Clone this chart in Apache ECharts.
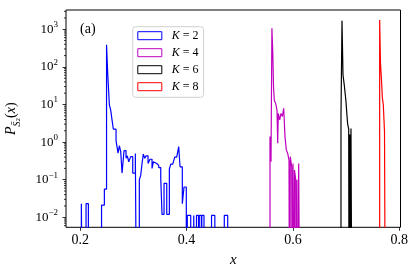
<!DOCTYPE html>
<html><head><meta charset="utf-8">
<script src="https://cdn.jsdelivr.net/npm/echarts@6/dist/echarts.min.js"></script>
<style>html,body{margin:0;padding:0;background:#fff}#c{width:416px;height:274px}</style>
</head><body><div id="c"></div>
<script>
// Step-histogram bins: left edge of each bin and its density (0 = empty bin)
const k2Edges = [0.2019, 0.2056, 0.2107, 0.2151, 0.2399, 0.2452, 0.2493, 0.2515, 0.2546, 0.2572, 0.2596, 0.2621, 0.2672, 0.2709, 0.2734, 0.2760, 0.2785, 0.2822, 0.2860, 0.2884, 0.2911, 0.2948, 0.2986, 0.3035, 0.3072, 0.3110, 0.3136, 0.3161, 0.3185, 0.3212, 0.3236, 0.3274, 0.3311, 0.3349, 0.3374, 0.3411, 0.3437, 0.3475, 0.3513, 0.3537, 0.3575, 0.3626, 0.3675, 0.3701, 0.3739, 0.3776, 0.3814, 0.3851, 0.3876, 0.3919, 0.3951, 0.3994, 0.4013, 0.4077, 0.4134, 0.4171, 0.4186, 0.4224, 0.4239, 0.4277, 0.4286, 0.4327, 0.4469, 0.4531, 0.4709, 0.4773];
const k2Values = [0.023, 0, 0.023, 0, 0.021, 0.056, 390, 68, 9.8, 7, 3.9, 2.2, 1.1, 0.51, 0.8, 0.55, 0.15, 0.59, 0.37, 0.43, 0.30, 0.41, 0.15, 0.5, 0, 0.10, 0.13, 0.27, 0.48, 0.37, 0.43, 0.27, 0.35, 0.20, 0.30, 0.27, 0.24, 0.21, 0.11, 0.012, 0.08, 0.012, 0.19, 0.26, 0.28, 0.40, 0.42, 0.76, 0.22, 0.023, 0.064, 0, 0.0112, 0, 0.0112, 0, 0.0112, 0, 0.0112, 0, 0.0112, 0, 0.0112, 0, 0.0112, 0];

const k4Edges = [0.5569, 0.5588, 0.5605, 0.5622, 0.5635, 0.5650, 0.5676, 0.5701, 0.5714, 0.5725, 0.5752, 0.5776, 0.5801, 0.5827, 0.5851, 0.5876, 0.5902, 0.5927, 0.5940, 0.5951, 0.5978, 0.5989, 0.6002, 0.6021, 0.6030, 0.6053, 0.6064, 0.6077, 0.6087, 0.6109, 0.6139];
const k4Values = [1.4, 0.30, 1070, 230, 30, 13, 10.7, 7, 0.93, 5.8, 3.9, 5.8, 4.8, 7.9, 1.4, 0.62, 0.50, 0.33, 0, 0.41, 0.22, 0, 0.27, 0, 0.18, 0.10, 0, 0.10, 0, 0.27, 0];

const k6Edges = [0.6905, 0.6924, 0.6943, 0.6967, 0.6999, 0.7018, 0.7031, 0.7050, 0.7061, 0.7070, 0.7084, 0.7093, 0.7118];
const k6Values = [4.8, 1700, 61, 33, 12, 5, 3, 2.2, 0, 1.6, 0, 2.3, 0];

const k8Edges = [0.7633, 0.7648, 0.7665, 0.7684, 0.7701, 0.7724, 0.7746];
const k8Values = [1770, 130, 50, 15, 10, 1.9, 0];

const seriesNames = ['K = 2', 'K = 4', 'K = 6', 'K = 8'];
const seriesColors = ['#0000ff', '#bf00bf', '#000000', '#ff0000'];
const xTicks = [0.2, 0.4, 0.6, 0.8];
const yDecades = [-2, -1, 0, 1, 2, 3];
const minorMultipliers = [2, 3, 4, 5, 6, 7, 8, 9];

const X_MIN = 0.173, X_MAX = 0.8025;
const Y_MIN = Math.log10(0.00542), Y_MAX = Math.log10(3260);
const FLOOR = -8;
const FONT = 'Liberation Serif';

function stepData(edges, values) {
  const d = [[edges[0], FLOOR]];
  for (let i = 0; i < edges.length; i++) {
    d.push([edges[i], values[i] > 0 ? Math.log10(values[i]) : FLOOR]);
  }
  return d;
}
const allEdges = [k2Edges, k4Edges, k6Edges, k8Edges];
const allValues = [k2Values, k4Values, k6Values, k8Values];

const minorVals = [];
for (let n = -3; n <= 3; n++) {
  minorMultipliers.forEach(m => {
    const v = n + Math.log10(m);
    if (v > Y_MIN && v < Y_MAX) minorVals.push([X_MIN, v]);
  });
}

const chart = echarts.init(document.getElementById('c'), null, {renderer: 'canvas'});
const series = seriesNames.map((name, i) => ({
  name: name,
  type: 'line',
  step: 'end',
  symbol: 'none',
  showSymbol: false,
  clip: true,
  animation: false,
  lineStyle: {color: seriesColors[i], width: 1.2},
  itemStyle: {color: seriesColors[i]},
  data: stepData(allEdges[i], allValues[i])
}));
series.push({
  type: 'custom',
  silent: true,
  animation: false,
  data: minorVals,
  renderItem: function (params, api) {
    const p = api.coord([api.value(0), api.value(1)]);
    return {type: 'line', shape: {x1: p[0] - 2, y1: p[1], x2: p[0], y2: p[1]},
            style: {stroke: '#000', lineWidth: 0.8}};
  }
});

chart.setOption({
  animation: false,
  backgroundColor: '#fff',
  title: {
    text: '(a)', left: 80, top: 22, padding: 0,
    textStyle: {fontFamily: FONT, fontSize: 14, fontWeight: 'normal', color: '#000'}
  },
  legend: {
    orient: 'vertical', left: 132.7, top: 26.7,
    padding: [3, 5, 4.6, 4.6],
    itemWidth: 24, itemHeight: 8, itemGap: 5,
    backgroundColor: 'rgba(255,255,255,0.8)',
    borderColor: '#d0d0d0', borderWidth: 1, borderRadius: 3,
    textStyle: {
      fontFamily: FONT, fontSize: 12, color: '#000', lineHeight: 12, padding: [0, 0, 0, 5],
      rich: {i: {fontFamily: FONT, fontSize: 12, fontStyle: 'italic', lineHeight: 12}}
    },
    formatter: name => name.replace('K', '{i|K}'),
    data: seriesNames.map((n, i) => ({
      name: n, icon: 'rect',
      itemStyle: {color: 'rgba(0,0,0,0)', borderColor: seriesColors[i], borderWidth: 1}
    }))
  },
  grid: {
    left: 66, right: 15.5, top: 10, bottom: 46.7,
    show: true, borderColor: '#000', borderWidth: 1, backgroundColor: 'transparent',
    containLabel: false, outerBoundsMode: 'none'
  },
  xAxis: {
    type: 'value', min: X_MIN, max: X_MAX,
    axisLine: {show: false, onZero: false},
    splitLine: {show: false},
    axisTick: {show: true, length: 3.5, customValues: xTicks, lineStyle: {color: '#000', width: 0.8}},
    axisLabel: {
      customValues: xTicks, margin: 6,
      fontFamily: FONT, fontSize: 14, color: '#000',
      formatter: v => v.toFixed(1)
    },
    name: 'x', nameLocation: 'middle', nameGap: 21,
    nameTextStyle: {fontFamily: FONT, fontSize: 15, fontStyle: 'italic', color: '#000'}
  },
  yAxis: {
    type: 'value', min: Y_MIN, max: Y_MAX,
    axisLine: {show: false, onZero: false},
    splitLine: {show: false},
    axisTick: {show: true, length: 3.5, customValues: yDecades, lineStyle: {color: '#000', width: 0.8}},
    axisLabel: {
      customValues: yDecades, margin: 8,
      fontFamily: FONT, fontSize: 13, color: '#000',
      formatter: v => '{b|10}{e|' + (v < 0 ? '\u2212' + (-v) : String(v)) + '}',
      rich: {
        b: {fontFamily: FONT, fontSize: 13, lineHeight: 18, color: '#000'},
        e: {fontFamily: FONT, fontSize: 9, lineHeight: 18, verticalAlign: 'top', color: '#000'}
      }
    },
    name: '{i|P}{s|S\u0304}{t|2}{n|(}{i|x}{n|)}',
    nameLocation: 'middle', nameRotate: 90, nameGap: 44,
    nameTextStyle: {
      fontFamily: FONT, fontSize: 14, color: '#000',
      rich: {
        i: {fontFamily: FONT, fontSize: 14, fontStyle: 'italic', lineHeight: 20},
        n: {fontFamily: FONT, fontSize: 14, lineHeight: 20},
        s: {fontFamily: FONT, fontSize: 10, fontStyle: 'italic', lineHeight: 20, verticalAlign: 'bottom'},
        t: {fontFamily: FONT, fontSize: 7, lineHeight: 22, verticalAlign: 'bottom'}
      }
    }
  },
  series: series
});
</script>
</body></html>
